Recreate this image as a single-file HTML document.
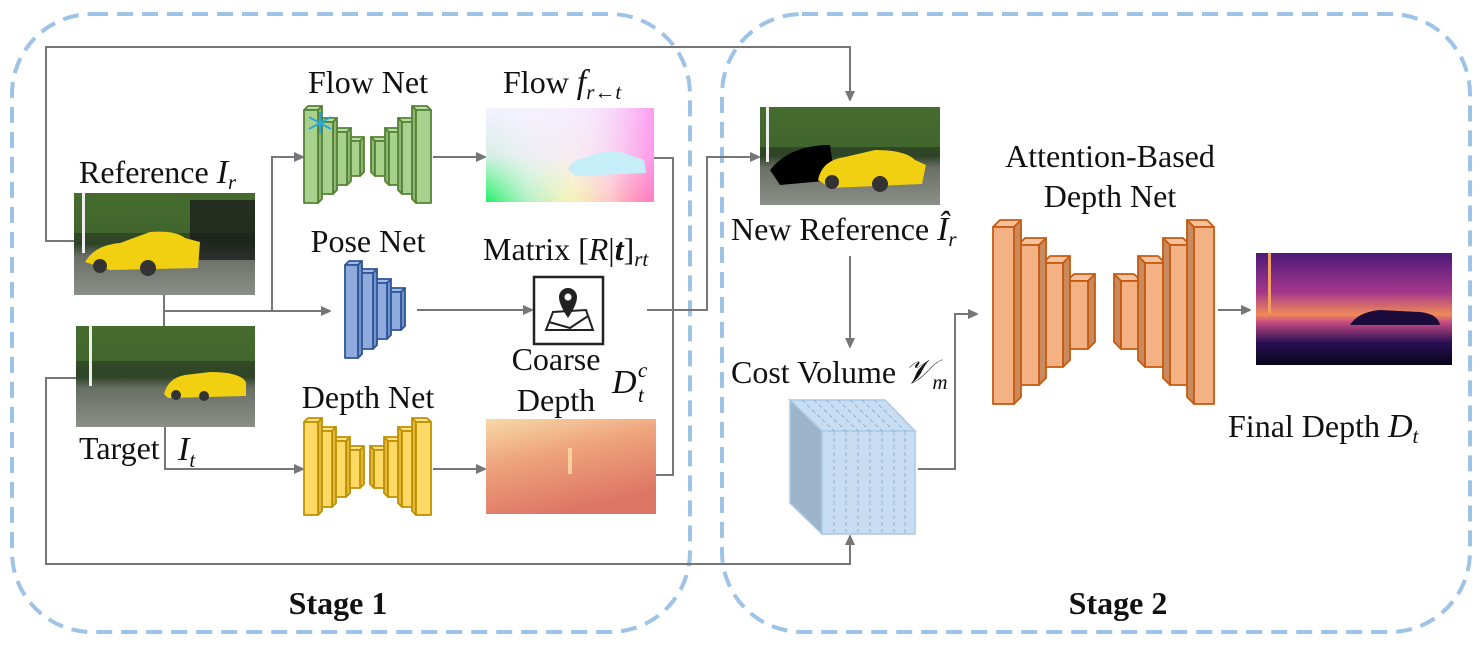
<!DOCTYPE html>
<html><head><meta charset="utf-8"><style>
html,body{margin:0;padding:0;background:#fff;}
svg{display:block;font-family:"Liberation Serif",serif;}
.t{font-size:32px;fill:#111;}
.m{font-size:34px;font-style:italic;fill:#111;}
.s{font-size:21px;font-style:italic;}
</style></head><body>
<svg id="s" width="1483" height="645" viewBox="0 0 1483 645" xmlns="http://www.w3.org/2000/svg">
<defs>
<marker id="a" markerWidth="10" markerHeight="10" refX="9" refY="5" orient="auto" markerUnits="userSpaceOnUse"><path d="M0,0 L11,5 L0,10 z" fill="#767676"/></marker>
<linearGradient id="flowB" x1="0" y1="0" x2="1" y2="0"><stop offset="0" stop-color="#22ee66"/><stop offset="0.25" stop-color="#aaf0c0"/><stop offset="0.5" stop-color="#f4f8a0"/><stop offset="0.75" stop-color="#ffd0a0"/><stop offset="1" stop-color="#ff4a1a"/></linearGradient>
<linearGradient id="flowV" x1="0" y1="0" x2="0" y2="1"><stop offset="0" stop-color="#f4f2ff" stop-opacity="1"/><stop offset="0.5" stop-color="#f6eefc" stop-opacity="0.85"/><stop offset="1" stop-color="#fff" stop-opacity="0"/></linearGradient>
<linearGradient id="flowR" x1="0" y1="0" x2="1" y2="0"><stop offset="0" stop-color="#fff" stop-opacity="0"/><stop offset="0.6" stop-color="#f8d8fa" stop-opacity="0.3"/><stop offset="1" stop-color="#ff88ee" stop-opacity="0.8"/></linearGradient>
<linearGradient id="cd" x1="0" y1="0" x2="0.4" y2="1"><stop offset="0" stop-color="#f7d9a8"/><stop offset="0.45" stop-color="#eea27c"/><stop offset="1" stop-color="#dd7665"/></linearGradient>
<linearGradient id="fd" x1="0" y1="0" x2="0" y2="1"><stop offset="0" stop-color="#4d1a78"/><stop offset="0.35" stop-color="#a5378c"/><stop offset="0.55" stop-color="#f08a58"/><stop offset="0.62" stop-color="#c34a82"/><stop offset="0.8" stop-color="#2a0f55"/><stop offset="1" stop-color="#07061a"/></linearGradient>
<linearGradient id="ph" x1="0" y1="0" x2="0" y2="1"><stop offset="0" stop-color="#3c5a2a"/><stop offset="0.5" stop-color="#2e4426"/><stop offset="0.62" stop-color="#6a6f66"/><stop offset="1" stop-color="#8a8f88"/></linearGradient>
</defs>

<rect x="12" y="14" width="678" height="618" rx="80" fill="none" stroke="#9dc3e6" stroke-width="4" stroke-dasharray="16 9"/>
<rect x="722" y="14" width="748" height="618" rx="80" fill="none" stroke="#9dc3e6" stroke-width="4" stroke-dasharray="16 9"/>

<g fill="none" stroke="#767676" stroke-width="2">
<polyline points="76,241 46,241 46,47 850,47 850,100" marker-end="url(#a)"/>
<polyline points="76,378 46,378 46,564 850,564 850,536" marker-end="url(#a)"/>
<polyline points="164,295 164,326"/>
<polyline points="164,311 330,311" marker-end="url(#a)"/>
<polyline points="272,311 272,157 303,157" marker-end="url(#a)"/>
<polyline points="165,427 165,469 303,469" marker-end="url(#a)"/>
<polyline points="433,157 485,157" marker-end="url(#a)"/>
<polyline points="417,310 532,310" marker-end="url(#a)"/>
<polyline points="433,469 485,469" marker-end="url(#a)"/>
<polyline points="654,158 673,158 673,475 656,475"/>
<polyline points="647,310 707,310 707,157 759,157" marker-end="url(#a)"/>
<polyline points="850,256 850,347" marker-end="url(#a)"/>
<polyline points="918,469 955,469 955,314 977,314" marker-end="url(#a)"/>
<polyline points="1218,310 1250,310" marker-end="url(#a)"/>
</g>

<rect x="74" y="193" width="181" height="102" fill="url(#ph)"/>
<rect x="74" y="193" width="181" height="40" fill="#4d7a32" opacity="0.6"/>
<rect x="190" y="200" width="65" height="60" fill="#1c1f1c" opacity="0.8"/>
<rect x="82" y="193" width="3" height="60" fill="#eee"/>
<path d="M85,262 Q95,245 120,243 L150,232 Q175,230 185,238 L200,242 L198,268 L110,270 Z" fill="#f0d010"/>
<circle cx="100" cy="266" r="7" fill="#333"/><circle cx="148" cy="268" r="8" fill="#333"/>
<rect x="76" y="326" width="179" height="101" fill="url(#ph)"/>
<rect x="76" y="326" width="179" height="35" fill="#4d7a32" opacity="0.6"/>
<rect x="89" y="326" width="3" height="60" fill="#eee"/>
<path d="M164,394 Q168,378 185,375 L210,372 Q240,372 246,382 L246,396 L168,398 Z" fill="#f0d010"/>
<circle cx="176" cy="395" r="5" fill="#333"/><circle cx="204" cy="396" r="5" fill="#333"/>

<rect x="486" y="108" width="168" height="94" fill="url(#flowB)"/>
<rect x="486" y="108" width="168" height="94" fill="url(#flowV)"/>
<rect x="486" y="108" width="168" height="94" fill="url(#flowR)"/>
<path d="M568,170 Q570,160 585,158 Q600,150 620,152 L644,160 L646,173 L575,176 Z" fill="#c6eef8"/>
<rect x="534" y="277" width="69" height="67" fill="#fff" stroke="#222" stroke-width="2.5"/>
<path d="M546,330 L593,330 L586,310 L553,312 Z M549,322 L570,328 L588,316" fill="none" stroke="#222" stroke-width="2"/>
<path d="M568,318 C560,306 559,300 559,297 A9,9 0 1 1 577,297 C577,300 576,306 568,318 Z" fill="#222"/>
<circle cx="568" cy="297" r="3.5" fill="#fff"/>
<rect x="486" y="419" width="170" height="95" fill="url(#cd)"/>
<rect x="568" y="448" width="4" height="26" fill="#fbe6b0" opacity="0.7"/>
<rect x="760" y="107" width="180" height="98" fill="url(#ph)"/>
<rect x="760" y="107" width="180" height="40" fill="#4d7a32" opacity="0.6"/>
<rect x="766" y="107" width="3" height="55" fill="#eee"/>
<path d="M770,170 Q790,145 830,145 L835,180 L780,185 Z" fill="#000"/>
<path d="M818,180 Q822,160 845,157 L875,150 Q905,150 915,160 L926,165 L922,184 L830,188 Z" fill="#f0d010"/>
<circle cx="832" cy="182" r="7" fill="#333"/><circle cx="880" cy="184" r="8" fill="#333"/>
<polygon points="790,400 822,431 822,534 790,503" fill="#9db4ca" stroke="#a9c8e6" stroke-width="1.5"/>
<polygon points="790,400 885,400 915,431 822,431" fill="#c8ddf1" stroke="#a9c8e6" stroke-width="1.5"/>
<rect x="822" y="431" width="93" height="103" fill="#c8ddf1" stroke="#a9c8e6" stroke-width="1.5"/>
<g stroke="#8fb4da" stroke-width="1" stroke-dasharray="4 3" fill="none">
<path d="M834,431V534M846,431V534M858,431V534M870,431V534M882,431V534M894,431V534M905,431V534"/>
<path d="M802,400L834,431M814,400L846,431M826,400L858,431M838,400L870,431M850,400L882,431M862,400L894,431M874,400L905,431"/>
</g>
<rect x="1256" y="253" width="196" height="112" fill="url(#fd)"/>
<rect x="1268" y="253" width="3" height="60" fill="#f3a060"/>
<path d="M1350,325 Q1358,312 1380,310 L1420,312 Q1438,314 1440,325 Z" fill="#1a0b3a"/>

<g id="bars"></g>

<g stroke="#2aa8d8" stroke-width="2" fill="none">
<path d="M320,112V134M309,117L331,129M309,129L331,117"/>
</g>

<text class="t" x="79" y="183">Reference <tspan class="m">I</tspan><tspan class="s" dy="6">r</tspan></text>
<text class="t" x="79" y="459">Target</text>
<text class="m" x="178" y="460">I<tspan class="s" dy="7">t</tspan></text>
<text class="t" x="368" y="93" text-anchor="middle">Flow Net</text>
<text class="t" x="503" y="93">Flow <tspan class="m">f</tspan><tspan class="s" dy="6">r←t</tspan></text>
<text class="t" x="368" y="252" text-anchor="middle">Pose Net</text>
<text class="t" x="483" y="260">Matrix [<tspan font-style="italic">R</tspan>|<tspan font-weight="bold" font-style="italic">t</tspan>]<tspan class="s" dy="6">rt</tspan></text>
<text class="t" x="556" y="370" text-anchor="middle">Coarse</text>
<text class="t" x="556" y="411" text-anchor="middle">Depth</text>
<text class="m" x="612" y="393">D</text><text class="s" x="638" y="377">c</text><text class="s" x="638" y="402">t</text>
<text class="t" x="368" y="408" text-anchor="middle">Depth Net</text>
<text class="t" x="731" y="240">New Reference <tspan class="m">Î</tspan><tspan class="s" dy="6">r</tspan></text>
<text class="t" x="731" y="383">Cost Volume <tspan class="m" font-family="DejaVu Serif">𝒱</tspan><tspan class="s" dy="6">m</tspan></text>
<text class="t" x="1110" y="167" text-anchor="middle">Attention-Based</text>
<text class="t" x="1110" y="207" text-anchor="middle">Depth Net</text>
<text class="t" x="1228" y="437">Final Depth <tspan class="m">D</tspan><tspan class="s" dy="6">t</tspan></text>
<text x="338" y="614" text-anchor="middle" font-size="32" font-weight="bold" fill="#111">Stage 1</text>
<text x="1118" y="614" text-anchor="middle" font-size="32" font-weight="bold" fill="#111">Stage 2</text>
</svg>
<script>
(function(){
var g=document.getElementById('bars'),NS='http://www.w3.org/2000/svg';
function P(pts,f,s){var p=document.createElementNS(NS,'polygon');p.setAttribute('points',pts);p.setAttribute('fill',f);p.setAttribute('stroke',s);p.setAttribute('stroke-width','1.8');p.setAttribute('stroke-linejoin','round');g.appendChild(p);}
function bar(x,y,w,h,d,left,c){
 if(!left){
  P([x,y,x+d,y-d,x+w+d,y-d,x+w,y].join(' '),c[1],c[2]);
  P([x+w,y,x+w+d,y-d,x+w+d,y+h-d,x+w,y+h].join(' '),c[3],c[2]);
 }else{
  P([x,y,x-d,y-d,x+w-d,y-d,x+w,y].join(' '),c[1],c[2]);
  P([x,y,x-d,y-d,x-d,y+h-d,x,y+h].join(' '),c[3],c[2]);
 }
 P([x,y,x+w,y,x+w,y+h,x,y+h].join(' '),c[0],c[2]);
}
var G=['#a9d18e','#b9dca0','#548235','#8fb573'],B=['#8faadc','#a3bbe4','#2f5597','#7392c8'],
Y=['#ffd966','#ffe388','#bf9000','#e0b840'],O=['#f4b183','#f7c29e','#c55a11','#c98a5e'];
function enc(a,c,d){for(var i=a.length-1;i>=0;i--){var b=a[i];bar(b[0],b[1],b[2],b[3],d,false,c);}}
function dec(a,c,d){for(var i=a.length-1;i>=0;i--){var b=a[i];bar(b[0],b[1],b[2],b[3],d,true,c);}}
enc([[304,110,14,93],[319,122,14,72],[333,132,14,53],[347,141,13,35]],G,4);
dec([[416,110,15,93],[402,122,14,72],[389,132,13,53],[375,141,13,35]],G,4);
enc([[345,265,13,93],[359,273,14,76],[373,283,14,56],[387,292,14,38]],B,4);
enc([[304,422,14,93],[318,431,14,76],[332,441,14,56],[346,450,14,38]],Y,4);
dec([[416,422,15,93],[402,431,14,76],[388,441,14,56],[374,450,14,38]],Y,4);
enc([[993,227,21,177],[1018,245,21,140],[1043,263,20,104],[1067,281,21,68]],O,7);
dec([[1194,227,20,177],[1170,245,20,140],[1145,263,20,104],[1121,281,20,68]],O,7);
})();
</script>
</body></html>
